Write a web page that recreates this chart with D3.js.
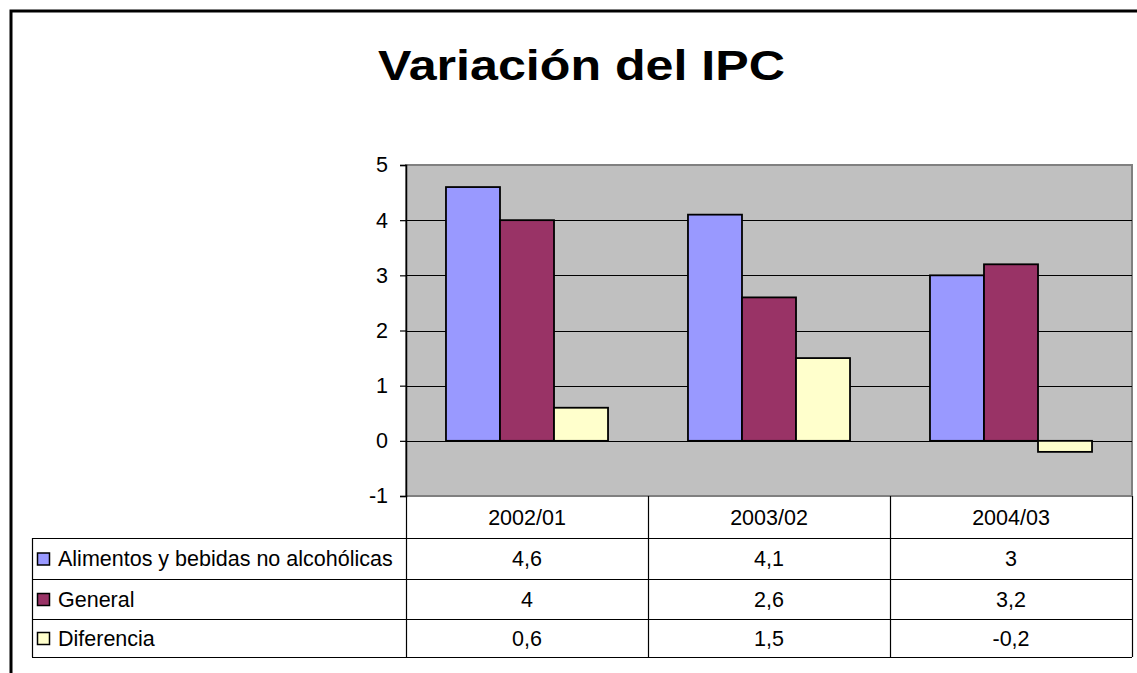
<!DOCTYPE html>
<html>
<head>
<meta charset="utf-8">
<script src="https://cdn.jsdelivr.net/npm/d3@7"></script>
<style>
  body { margin: 0; background: #fff; }
  svg { display: block; font-family: Arial, "Liberation Sans", sans-serif; }
</style>
</head>
<body>
<svg id="chart" width="1137" height="673"></svg>
<script>
// data
var categories = ["2002/01", "2003/02", "2004/03"];
var seriesNames = ["Alimentos y bebidas no alcohólicas", "General", "Diferencia"];
var alimentos = [4.6, 4.1, 3];
var general = [4, 2.6, 3.2];
var diferencia = [0.6, 1.5, -0.2];
var seriesColors = ["#9999FF", "#993366", "#FFFFCC"];
var yTicks = [-1, 0, 1, 2, 3, 4, 5];

var seriesValues = [alimentos, general, diferencia];

var svg = d3.select("#chart");
var fontSize = 21.5;

// outer frame (only left and top visible)
svg.append("path")
	.attr("d", "M11,673 V11 H1137")
	.attr("fill", "none")
	.attr("stroke", "#000")
	.attr("stroke-width", 3);

// title (reference font is wider than Arial, stretch to match)
svg.append("text")
	.attr("x", 581.5)
	.attr("y", 80)
	.attr("text-anchor", "middle")
	.attr("font-size", 42)
	.attr("font-weight", "bold")
	.attr("textLength", 407)
	.attr("lengthAdjust", "spacingAndGlyphs")
	.text("Variación del IPC");

var plotLeft = 406, plotRight = 1132, plotTop = 165, plotBottom = 496;

var x = d3.scaleBand().domain(categories).range([plotLeft, plotRight]).padding(0);
var x1 = d3.scaleBand().domain(seriesNames).range([0, x.bandwidth()]).paddingInner(0).paddingOuter(0.74);
var y = d3.scaleLinear().domain([-1, 5]).range([plotBottom, plotTop]);

// plot background
svg.append("rect")
	.attr("x", plotLeft).attr("y", plotTop)
	.attr("width", plotRight - plotLeft).attr("height", plotBottom - plotTop)
	.attr("fill", "#C0C0C0")
	.attr("stroke", "#808080")
	.attr("stroke-width", 2);

// gridlines
svg.append("g").selectAll("line")
	.data(yTicks.filter(function (d) { return d > -1 && d < 5; }))
	.join("line")
	.attr("x1", plotLeft).attr("x2", plotRight)
	.attr("y1", function (d) { return Math.round(y(d)) + 0.5; })
	.attr("y2", function (d) { return Math.round(y(d)) + 0.5; })
	.attr("stroke", "#000")
	.attr("stroke-width", 1.2);

// bars
var groups = svg.append("g").selectAll("g")
	.data(categories)
	.join("g")
	.attr("transform", function (d) { return "translate(" + x(d) + ",0)"; });

groups.selectAll("rect")
	.data(function (c, ci) {
		return seriesNames.map(function (s, si) {
			return { name: s, value: seriesValues[si][ci], color: seriesColors[si] };
		});
	})
	.join("rect")
	.attr("x", function (d) { return x1(d.name); })
	.attr("y", function (d) { return y(Math.max(0, d.value)); })
	.attr("width", x1.bandwidth())
	.attr("height", function (d) { return Math.abs(y(d.value) - y(0)); })
	.attr("fill", function (d) { return d.color; })
	.attr("stroke", "#000")
	.attr("stroke-width", 1.8);

// y axis
var yAxis = d3.axisLeft(y).tickValues(yTicks).tickSize(6).tickPadding(12)
	.tickFormat(function (d) { return String(d); });
var gy = svg.append("g").attr("transform", "translate(" + plotLeft + ",0)").call(yAxis);
gy.select(".domain").attr("stroke", "#000").attr("stroke-width", 1.5);
gy.selectAll(".tick line").attr("stroke", "#000").attr("stroke-width", 1.2);
gy.selectAll(".tick text")
	.attr("font-size", fontSize)
	.attr("fill", "#000")
	.attr("font-family", "Arial, 'Liberation Sans', sans-serif");

// data table
var tableLeft = 32;
var rowEdges = [496, 538, 579, 619, 657];

var table = svg.append("g");

// header row: category labels
table.selectAll("text.cat")
	.data(categories)
	.join("text")
	.attr("class", "cat")
	.attr("x", function (d) { return x(d) + x.bandwidth() / 2; })
	.attr("y", (rowEdges[0] + rowEdges[1]) / 2)
	.attr("dy", "0.35em")
	.attr("text-anchor", "middle")
	.attr("font-size", fontSize)
	.text(function (d) { return d; });

// horizontal lines
table.selectAll("line.h")
	.data(rowEdges.slice(1))
	.join("line")
	.attr("class", "h")
	.attr("x1", tableLeft).attr("x2", plotRight)
	.attr("y1", function (d) { return d + 0.5; })
	.attr("y2", function (d) { return d + 0.5; })
	.attr("stroke", "#000")
	.attr("stroke-width", 1.2);

// vertical lines
var vEdges = [plotLeft].concat(categories.map(function (c) { return x(c) + x.bandwidth(); }));
table.selectAll("line.v")
	.data(vEdges)
	.join("line")
	.attr("class", "v")
	.attr("x1", function (d) { return Math.round(d) + 0.5; })
	.attr("x2", function (d) { return Math.round(d) + 0.5; })
	.attr("y1", rowEdges[0])
	.attr("y2", rowEdges[4])
	.attr("stroke", "#000")
	.attr("stroke-width", 1.2);

table.append("line")
	.attr("x1", tableLeft + 0.5).attr("x2", tableLeft + 0.5)
	.attr("y1", rowEdges[1]).attr("y2", rowEdges[4])
	.attr("stroke", "#000").attr("stroke-width", 1.2);

// series rows
var fmt = function (v) { return String(v).replace(".", ","); };

seriesNames.forEach(function (name, si) {
	var cy = (rowEdges[si + 1] + rowEdges[si + 2]) / 2;
	table.append("rect")
		.attr("x", 37.5).attr("y", cy - 5.5)
		.attr("width", 12).attr("height", 12)
		.attr("fill", seriesColors[si])
		.attr("stroke", "#000")
		.attr("stroke-width", 1.5);
	table.append("text")
		.attr("x", 58).attr("y", cy)
		.attr("dy", "0.35em")
		.attr("font-size", fontSize)
		.text(name);
	table.selectAll(null)
		.data(categories)
		.join("text")
		.attr("x", function (c) { return x(c) + x.bandwidth() / 2; })
		.attr("y", cy)
		.attr("dy", "0.35em")
		.attr("text-anchor", "middle")
		.attr("font-size", fontSize)
		.text(function (c, ci) { return fmt(seriesValues[si][ci]); });
});
</script>
</body>
</html>
